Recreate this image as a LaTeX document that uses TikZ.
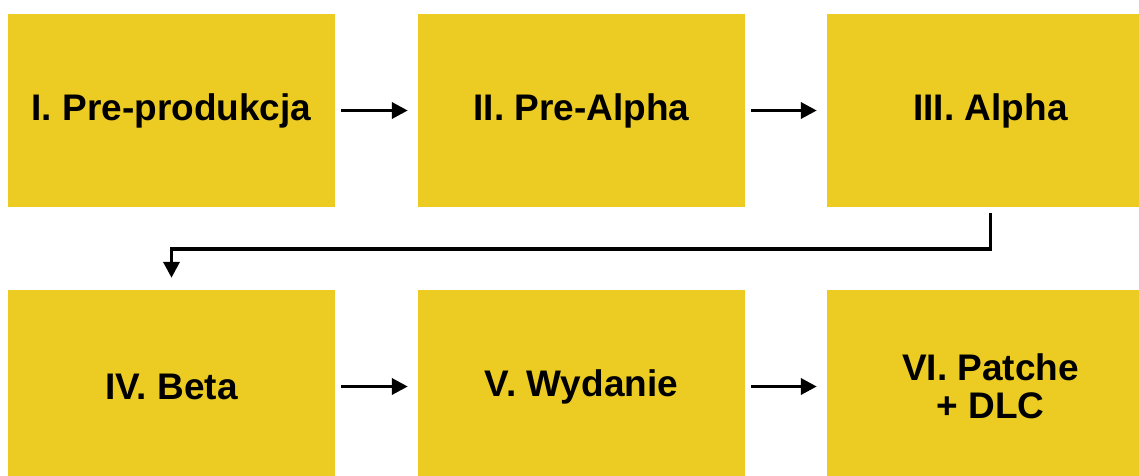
\documentclass[tikz,border=0pt]{standalone}
\usepackage{fontspec}
\setmainfont{Liberation Sans}
\usetikzlibrary{arrows.meta}
\definecolor{phase}{HTML}{ECCC22}
\tikzset{
  phasebox/.style={fill=phase, draw=none, minimum width=327pt, minimum height=193pt,
    inner sep=0pt, align=center, font=\bfseries\fontsize{37}{38}\selectfont},
  flow/.style={line width=3.6pt, -{Triangle[length=16pt,width=16pt]}},
}
\begin{document}
\begin{tikzpicture}[x=1pt, y=-1pt]
  \useasboundingbox (0,0) rectangle (1139,475);
  \clip (0,0) rectangle (1139,475);
  % first row of phases
  \node[phasebox] (p1) at (171.5,110.5) {I. Pre-produkcja};
  \node[phasebox] (p2) at (581.5,110.5) {II. Pre-Alpha};
  \node[phasebox] (p3) at (990.5,110.5) {III. Alpha};
  % second row of phases
  \node[phasebox] (p4) at (171.5,386.5) {IV. Beta};
  \node[phasebox] (p5) at (581.5,386.5) {V. Wydanie};
  \node[phasebox] (p6) at (990.5,386.5) {VI. Patche\\+ DLC};
  % arrows along each row
  \draw[flow, shorten <=6pt, shorten >=10pt] (p1) -- (p2);
  \draw[flow, shorten <=6pt, shorten >=10pt] (p2) -- (p3);
  \draw[flow, shorten <=6pt, shorten >=10pt] (p4) -- (p5);
  \draw[flow, shorten <=6pt, shorten >=10pt] (p5) -- (p6);
  % wrap-around link from the end of row one to the start of row two
  \coordinate (bend) at (990.5,249);
  \draw[flow] ([yshift=-6pt]p3.south) -- (bend) -| ([yshift=12pt]p4.north);
\end{tikzpicture}
\end{document}
